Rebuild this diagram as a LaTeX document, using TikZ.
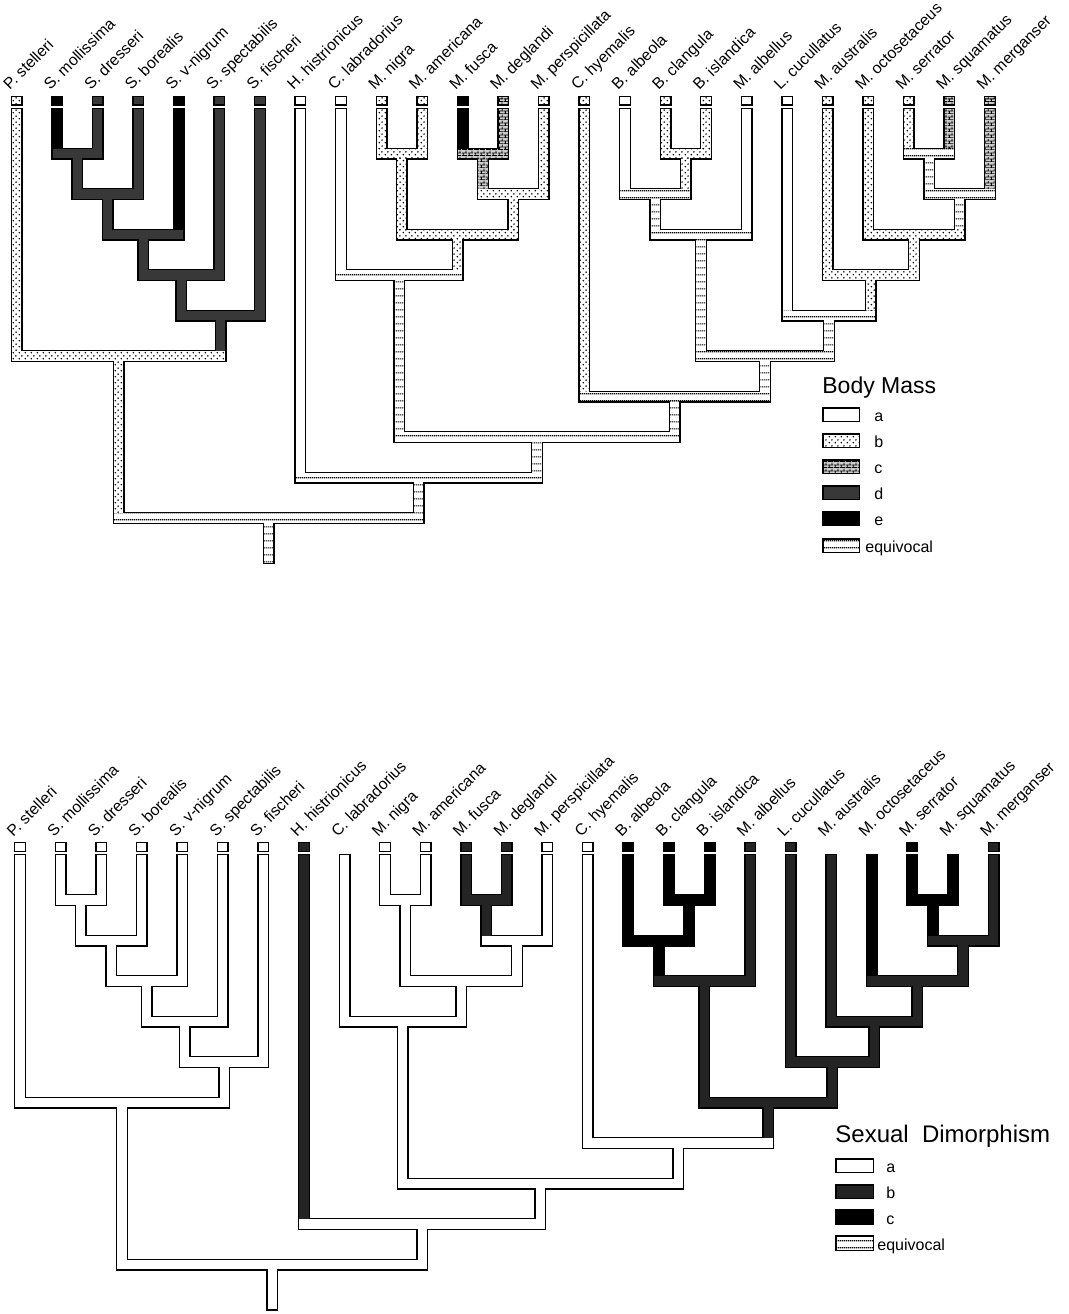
\documentclass[tikz,border=0pt]{standalone}
\usepackage{fontspec}
\setmainfont{Liberation Sans}
\usetikzlibrary{patterns}

\pgfdeclarepatternformonly{mydots}{\pgfpoint{0pt}{0pt}}{\pgfpoint{3pt}{3pt}}{\pgfpoint{3pt}{3pt}}{%
  \pgfpathcircle{\pgfpoint{0.75pt}{0.75pt}}{0.48pt}%
  \pgfpathcircle{\pgfpoint{2.25pt}{2.25pt}}{0.48pt}%
  \pgfusepath{fill}}
\pgfdeclarepatternformonly{minibricks}{\pgfpoint{0pt}{0pt}}{\pgfpoint{3pt}{3pt}}{\pgfpoint{3pt}{3pt}}{%
  \pgfsetlinewidth{0.45pt}%
  \pgfpathmoveto{\pgfpoint{0pt}{0.2pt}}\pgfpathlineto{\pgfpoint{3pt}{0.2pt}}%
  \pgfpathmoveto{\pgfpoint{0pt}{1.7pt}}\pgfpathlineto{\pgfpoint{3pt}{1.7pt}}%
  \pgfpathmoveto{\pgfpoint{0.75pt}{0.2pt}}\pgfpathlineto{\pgfpoint{0.75pt}{1.7pt}}%
  \pgfpathmoveto{\pgfpoint{2.25pt}{1.7pt}}\pgfpathlineto{\pgfpoint{2.25pt}{3pt}}%
  \pgfusepath{stroke}}
\pgfdeclarepatternformonly{eqlines}{\pgfpoint{0pt}{0pt}}{\pgfpoint{1pt}{3.5pt}}{\pgfpoint{1pt}{3.5pt}}{%
  \pgfsetlinewidth{0.6pt}%
  \pgfpathmoveto{\pgfpoint{0pt}{1.75pt}}\pgfpathlineto{\pgfpoint{1pt}{1.75pt}}%
  \pgfusepath{stroke}}

% tree geometry (pixel coordinates, y downward); tips: x, parent level, id ; nodes: x, xl, xr, y, parent y, id
\newcommand\treegeom{%
\brTip{16.5}{356}{0}\brTip{57.1}{153.5}{1}\brTip{97.6}{153.5}{2}\brTip{138.2}{194}{3}%
\brTip{178.7}{234.5}{4}\brTip{219.3}{275}{5}\brTip{259.9}{315.5}{6}\brTip{300.4}{477.5}{7}%
\brTip{341.0}{275}{8}\brTip{381.5}{153.5}{9}\brTip{422.1}{153.5}{10}\brTip{462.7}{153.5}{11}%
\brTip{503.2}{153.5}{12}\brTip{543.8}{194}{13}\brTip{584.3}{396.5}{14}\brTip{624.9}{194}{15}%
\brTip{665.5}{153.5}{16}\brTip{706.0}{153.5}{17}\brTip{746.6}{234.5}{18}\brTip{787.1}{315.5}{19}%
\brTip{827.7}{275}{20}\brTip{868.3}{234.5}{21}\brTip{908.8}{153.5}{22}\brTip{949.4}{153.5}{23}%
\brTip{990.0}{194}{24}%
\brNode{77.35}{57.1}{97.6}{153.5}{194}{1}%
\brNode{107.8}{77.35}{138.2}{194}{234.5}{2}%
\brNode{143.25}{107.8}{178.7}{234.5}{275}{3}%
\brNode{181.3}{143.25}{219.3}{275}{315.5}{4}%
\brNode{220.6}{181.3}{259.9}{315.5}{356}{5}%
\brNode{118.55}{16.5}{220.6}{356}{518}{6}%
\brNode{401.8}{381.5}{422.1}{153.5}{234.5}{7}%
\brNode{482.95}{462.7}{503.2}{153.5}{194}{8}%
\brNode{513.4}{482.95}{543.8}{194}{234.5}{9}%
\brNode{457.6}{401.8}{513.4}{234.5}{275}{10}%
\brNode{399.3}{341.0}{457.6}{275}{437}{11}%
\brNode{685.75}{665.5}{706.0}{153.5}{194}{12}%
\brNode{655.3}{624.9}{685.75}{194}{234.5}{13}%
\brNode{700.95}{655.3}{746.6}{234.5}{356}{14}%
\brNode{929.1}{908.8}{949.4}{153.5}{194}{15}%
\brNode{959.55}{929.1}{990.0}{194}{234.5}{16}%
\brNode{913.9}{868.3}{959.55}{234.5}{275}{17}%
\brNode{870.8}{827.7}{913.9}{275}{315.5}{18}%
\brNode{828.95}{787.1}{870.8}{315.5}{356}{19}%
\brNode{764.95}{700.95}{828.95}{356}{396.5}{20}%
\brNode{674.6}{584.3}{764.95}{396.5}{437}{21}%
\brNode{536.95}{399.3}{674.6}{437}{477.5}{22}%
\brNode{418.7}{300.4}{536.95}{477.5}{518}{23}%
\brNode{268.6}{118.55}{418.7}{518}{564}{24}%
}

% three drawing passes
\newcommand\drawtree{%
  \def\brTip##1##2##3{\fill[black] (##1-6,107.5) rectangle (##1+6,##2);}%
  \def\brNode##1##2##3##4##5##6{\fill[black] (##1-6,##4) rectangle (##1+6,##5);
    \fill[black] (##2-6,##4-6) rectangle (##3+6,##4+6);}%
  \treegeom
  \def\brTip##1##2##3{\path[k##3] (##1-4.6,108.9) rectangle (##1+4.6,##2-1.4);
    \ifcsname nobox##3\endcsname\else
      \path[k##3,draw=black,line width=0.7pt] (##1-5.3,96.2) rectangle (##1+5.3,104.8);\fi}%
  \def\brNode##1##2##3##4##5##6{\path[m##6] (##1-4.6,##4+1.4) rectangle (##1+4.6,##5-1.4);}%
  \treegeom
  \def\brTip##1##2##3{}%
  \def\brNode##1##2##3##4##5##6{\path[m##6] (##2-4.6,##4-4.6) rectangle (##3+4.6,##4+4.6);}%
  \treegeom
}

\newcommand\taxa{P. stelleri, S. mollissima, S. dresseri, S. borealis, S. v-nigrum, S. spectabilis, S. fischeri, H. histrionicus, C. labradorius, M. nigra, M. americana, M. fusca, M. deglandi, M. perspicillata, C. hyemalis, B. albeola, B. clangula, B. islandica, M. albellus, L. cucullatus, M. australis, M. octosetaceus, M. serrator, M. squamatus, M. merganser}

\begin{document}
\begin{tikzpicture}[x=0.5pt,y=-0.5pt,
  sa/.style={fill=white},
  sb/.style={preaction={fill=white},pattern=mydots},
  sc/.style={preaction={fill=black!20},pattern=minibricks},
  sd/.style={fill=black!78},
  se/.style={fill=black},
  seq/.style={preaction={fill=white},pattern=eqlines},
  tb/.style={fill=black!86},
  tc/.style={fill=black},
  lab/.style={rotate=45,anchor=base west,inner sep=0pt,font=\fontsize{7.9}{9}\selectfont},
  legtitle/.style={anchor=base west,inner sep=0pt},
  leglab/.style={anchor=base west,inner sep=0pt,font=\fontsize{8}{9}\selectfont},
  legbox/.style={draw=black,line width=0.75pt}]
\useasboundingbox (0,0) rectangle (1069,1314);
\fill[white] (0,0) rectangle (1069,1314);

% ---------------- Tree 1: Body Mass ----------------
\begin{scope}
\tikzset{k0/.style={sb},k1/.style={se},k2/.style={sd},k3/.style={sd},k4/.style={se},
  k5/.style={sd},k6/.style={sd},k7/.style={sa},k8/.style={sa},k9/.style={sb},k10/.style={sb},
  k11/.style={se},k12/.style={sc},k13/.style={sb},k14/.style={sb},k15/.style={sa},k16/.style={sb},
  k17/.style={sb},k18/.style={sa},k19/.style={sa},k20/.style={sb},k21/.style={sb},k22/.style={sb},
  k23/.style={sc},k24/.style={sc},
  m1/.style={sd},m2/.style={sd},m3/.style={sd},m4/.style={sd},m5/.style={sd},m6/.style={sb},
  m7/.style={sb},m8/.style={sc},m9/.style={sb},m10/.style={sb},m11/.style={seq},m12/.style={sb},
  m13/.style={seq},m14/.style={seq},m15/.style={seq},m16/.style={seq},m17/.style={sb},m18/.style={sb},
  m19/.style={seq},m20/.style={seq},m21/.style={seq},m22/.style={seq},m23/.style={seq},m24/.style={seq}}
\drawtree
\foreach \nm [count=\i from 0] in \taxa {
  \node[lab] (ta\i) at ({16.5+40.56*\i-7},91) {\nm};
}
\end{scope}

% legend 1
\node[legtitle,font=\fontsize{11.5}{13}\selectfont] (bmtitle) at (822,393) {Body Mass};
\path[sa,legbox] (822.75,407.75) rectangle (859.25,421.25);
\path[sb,legbox] (822.75,433.75) rectangle (859.25,447.25);
\path[sc,legbox] (822.75,459.75) rectangle (859.25,473.25);
\path[sd,legbox] (822.75,485.75) rectangle (859.25,499.25);
\path[se,legbox] (822.75,511.75) rectangle (859.25,525.25);
\path[seq,legbox] (822.75,538.75) rectangle (859.25,552.25);
\node[leglab] (bma) at (874,421) {a};
\node[leglab] (bmb) at (874,447) {b};
\node[leglab] (bmc) at (874,473) {c};
\node[leglab] (bmd) at (874,499) {d};
\node[leglab] (bme) at (874,525) {e};
\node[leglab] (bmq) at (865,552) {equivocal};

% ---------------- Tree 2: Sexual Dimorphism ----------------
\begin{scope}[xshift=1.75pt,yshift=-373.25pt]
\tikzset{k0/.style={sa},k1/.style={sa},k2/.style={sa},k3/.style={sa},k4/.style={sa},
  k5/.style={sa},k6/.style={sa},k7/.style={tb},k8/.style={sa},k9/.style={sa},k10/.style={sa},
  k11/.style={tb},k12/.style={tb},k13/.style={sa},k14/.style={sa},k15/.style={tc},k16/.style={tc},
  k17/.style={tc},k18/.style={tb},k19/.style={tb},k20/.style={tb},k21/.style={tc},k22/.style={tc},
  k23/.style={tc},k24/.style={tb},
  m1/.style={sa},m2/.style={sa},m3/.style={sa},m4/.style={sa},m5/.style={sa},m6/.style={sa},
  m7/.style={sa},m8/.style={tb},m9/.style={sa},m10/.style={sa},m11/.style={sa},m12/.style={tc},
  m13/.style={tc},m14/.style={tb},m15/.style={tc},m16/.style={tb},m17/.style={tb},m18/.style={tb},
  m19/.style={tb},m20/.style={tb},m21/.style={sa},m22/.style={sa},m23/.style={sa},m24/.style={sa}}
\expandafter\def\csname nobox8\endcsname{}
\expandafter\def\csname nobox20\endcsname{}
\expandafter\def\csname nobox21\endcsname{}
\expandafter\def\csname nobox23\endcsname{}
\drawtree
\foreach \nm [count=\i from 0] in \taxa {
  \node[lab] (tb\i) at ({16.5+40.56*\i-7},91) {\nm};
}
\end{scope}

% legend 2
\node[legtitle,font=\fontsize{12}{14}\selectfont] (sdtitle) at (835,1142) {Sexual\ \ Dimorphism};
\path[sa,legbox] (835.75,1158.75) rectangle (873.25,1172.25);
\path[tb,legbox] (835.75,1184.75) rectangle (873.25,1198.25);
\path[tc,legbox] (835.75,1209.75) rectangle (873.25,1224.25);
\path[seq,legbox] (835.75,1235.75) rectangle (873.25,1250.25);
\node[leglab] (sda) at (886,1172) {a};
\node[leglab] (sdb) at (886,1198) {b};
\node[leglab] (sdc) at (886,1224) {c};
\node[leglab] (sdq) at (877,1250) {equivocal};
\end{tikzpicture}
\end{document}
